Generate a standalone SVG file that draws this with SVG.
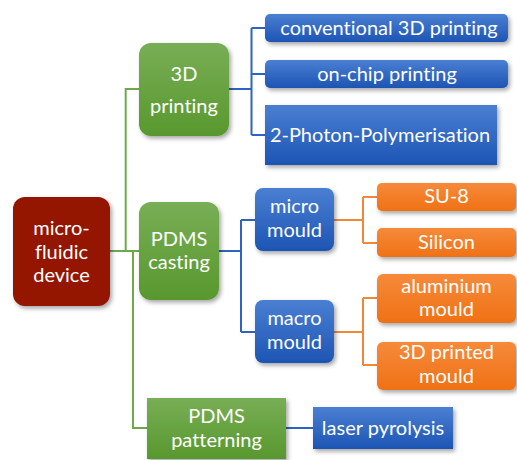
<svg xmlns="http://www.w3.org/2000/svg" width="517" height="460" viewBox="0 0 517 460">
  <defs>
    <linearGradient id="gGreen" x1="0" y1="0" x2="0" y2="1">
      <stop offset="0" stop-color="#78AE55"/>
      <stop offset="1" stop-color="#58982E"/>
    </linearGradient>
    <linearGradient id="gBlue" x1="0" y1="0" x2="0" y2="1">
      <stop offset="0" stop-color="#4A7FD2"/>
      <stop offset="1" stop-color="#1D55B4"/>
    </linearGradient>
    <linearGradient id="gOrange" x1="0" y1="0" x2="0" y2="1">
      <stop offset="0" stop-color="#F68A3A"/>
      <stop offset="1" stop-color="#F07115"/>
    </linearGradient>
    <filter id="shadow" x="-20%" y="-20%" width="140%" height="150%">
      <feDropShadow dx="2" dy="2.5" stdDeviation="2" flood-color="#000" flood-opacity="0.35"/>
    </filter>
  </defs>
  <style>
    .lbl { font-family: Lato, "Open Sans", "Liberation Sans", sans-serif; font-size: 20px; fill: #ffffff; text-anchor: middle; font-variant-ligatures: none; }
    .root { fill: #941200; filter: url(#shadow); }
    .green { fill: url(#gGreen); filter: url(#shadow); }
    .blue { fill: url(#gBlue); filter: url(#shadow); }
    .orange { fill: url(#gOrange); filter: url(#shadow); }
    .c { fill: none; stroke-width: 2; }
    .cg { stroke: #6FA84A; }
    .cb { stroke: #2F63C2; }
    .co { stroke: #F28738; }
  </style>

  <rect width="517" height="460" fill="#ffffff"/>

  <g id="connectors">
    <path class="c cg" d="M110 251 H139 M125.7 251 V89 H139 M133 251 V428 H147"/>
    <path class="c cb" d="M229 89 H251.5 M251.5 28 V135 M251.5 28 H265 M251.5 74 H265 M251.5 135 H265"/>
    <path class="c cb" d="M219 251 H241 M241 220 V332 M241 220 H255 M241 332 H255"/>
    <path class="c cb" d="M286 428 H313"/>
    <path class="c co" d="M334 220 H363 M363 197 V243 M363 197 H377 M363 243 H377"/>
    <path class="c co" d="M334 332 H363 M363 298 V365 M363 298 H377 M363 365 H377"/>
  </g>

  <g id="microfluidic-device">
    <rect class="root" x="13" y="197" width="97" height="109" rx="12"/>
    <text class="lbl" x="61.5" y="235">micro-</text>
    <text class="lbl" x="61.5" y="258.5">fluidic</text>
    <text class="lbl" x="61.5" y="282">device</text>
  </g>

  <g id="printing-3d">
    <rect class="green" x="139" y="43" width="90" height="93" rx="12"/>
    <text class="lbl" x="184" y="81">3D</text>
    <text class="lbl" x="184" y="113">printing</text>
  </g>

  <g id="pdms-casting">
    <rect class="green" x="139" y="202" width="80" height="98" rx="12"/>
    <text class="lbl" x="179" y="245.5">PDMS</text>
    <text class="lbl" x="179" y="268.5">casting</text>
  </g>

  <g id="pdms-patterning">
    <rect class="green" x="147" y="398" width="139" height="61"/>
    <text class="lbl" x="216.5" y="423">PDMS</text>
    <text class="lbl" x="216.5" y="447">patterning</text>
  </g>

  <g id="conventional-3d-printing">
    <rect class="blue" x="265" y="14" width="243" height="28" rx="5"/>
    <text class="lbl" x="389" y="35">conventional 3D printing</text>
  </g>

  <g id="on-chip-printing">
    <rect class="blue" x="265" y="60" width="243" height="28" rx="5"/>
    <text class="lbl" x="387" y="81">on-chip printing</text>
  </g>

  <g id="two-photon-polymerisation">
    <rect class="blue" x="265" y="105" width="232" height="60"/>
    <text class="lbl" x="380" y="142">2-Photon-Polymerisation</text>
  </g>

  <g id="micro-mould">
    <rect class="blue" x="255" y="188" width="79" height="63" rx="8"/>
    <text class="lbl" x="294.5" y="213">micro</text>
    <text class="lbl" x="294.5" y="237">mould</text>
  </g>

  <g id="macro-mould">
    <rect class="blue" x="255" y="300" width="79" height="63" rx="8"/>
    <text class="lbl" x="294.5" y="325">macro</text>
    <text class="lbl" x="294.5" y="349">mould</text>
  </g>

  <g id="su-8">
    <rect class="orange" x="377" y="183" width="139" height="28" rx="5"/>
    <text class="lbl" x="446.5" y="203">SU-8</text>
  </g>

  <g id="silicon">
    <rect class="orange" x="377" y="228" width="139" height="29" rx="5"/>
    <text class="lbl" x="446.5" y="249">Silicon</text>
  </g>

  <g id="aluminium-mould">
    <rect class="orange" x="377" y="274" width="139" height="49" rx="6"/>
    <text class="lbl" x="446.5" y="293">aluminium</text>
    <text class="lbl" x="446.5" y="316">mould</text>
  </g>

  <g id="printed-mould">
    <rect class="orange" x="377" y="342" width="139" height="48" rx="6"/>
    <text class="lbl" x="446.5" y="359">3D printed</text>
    <text class="lbl" x="446.5" y="383">mould</text>
  </g>

  <g id="laser-pyrolysis">
    <rect class="blue" x="313" y="407" width="140" height="42"/>
    <text class="lbl" x="383" y="435">laser pyrolysis</text>
  </g>
</svg>
